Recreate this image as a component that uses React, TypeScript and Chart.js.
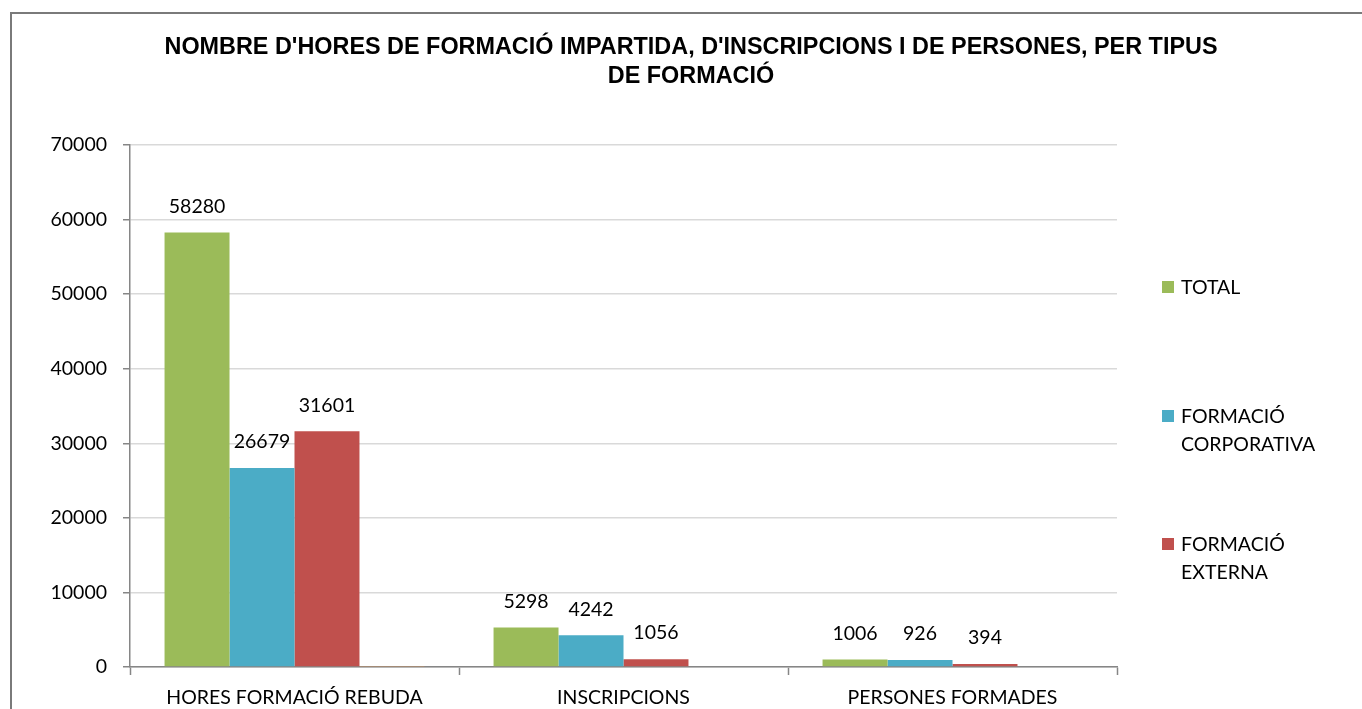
import React, { useEffect, useRef } from "react";
import { Chart, registerables } from "chart.js";

Chart.register(...registerables);

// ---- data ----
const TITLE_LINES = [
  "NOMBRE D'HORES DE FORMACIÓ IMPARTIDA, D'INSCRIPCIONS I DE PERSONES, PER TIPUS",
  "DE FORMACIÓ",
];
const CATEGORIES = ["HORES FORMACIÓ REBUDA", "INSCRIPCIONS", "PERSONES FORMADES"];
const TOTAL = [58280, 5298, 1006];
const CORPORATIVA = [26679, 4242, 926];
const EXTERNA = [31601, 1056, 394];
const ALTRES = [120, 0, 0];
const SERIES_NAMES = ["TOTAL", "FORMACIÓ CORPORATIVA", "FORMACIÓ EXTERNA", ""];
const LEGEND_LINES = [["TOTAL"], ["FORMACIÓ", "CORPORATIVA"], ["FORMACIÓ", "EXTERNA"]];
const COLORS = ["#9BBB59", "#4BACC6", "#C0504D", "#F79646"];
const Y_MIN = 0;
const Y_MAX = 70000;
const Y_STEP = 10000;

const FONT = "Lato";
const FONT_SIZE = 19.5;

const titlePlugin = {
  id: "customTitle",
  afterDraw(chart: any) {
    const ctx = chart.ctx;
    ctx.save();
    ctx.fillStyle = "#000";
    ctx.font = "bold 23.4px 'Liberation Sans', Arial, sans-serif";
    ctx.textAlign = "center";
    ctx.textBaseline = "middle";
    const cx = 691;
    ctx.fillText(TITLE_LINES[0], cx, 48);
    ctx.fillText(TITLE_LINES[1], cx, 77);
    ctx.restore();
  },
};

const dataLabelPlugin = {
  id: "dataLabels",
  afterDatasetsDraw(chart: any) {
    const ctx = chart.ctx;
    ctx.save();
    ctx.fillStyle = "#000";
    ctx.font = `${FONT_SIZE}px ${FONT}`;
    ctx.textAlign = "center";
    ctx.textBaseline = "middle";
    for (let d = 0; d < 3; d++) {
      const meta = chart.getDatasetMeta(d);
      const ds = chart.data.datasets[d];
      meta.data.forEach((el: any, i: number) => {
        ctx.fillText(String(ds.data[i]), el.x, el.y - 26);
      });
    }
    ctx.restore();
  },
};

const legendPlugin = {
  id: "customLegend",
  afterDraw(chart: any) {
    const ctx = chart.ctx;
    ctx.save();
    ctx.font = `${FONT_SIZE}px ${FONT}`;
    ctx.textAlign = "left";
    ctx.textBaseline = "middle";
    const firstLineY = [288, 417, 545];
    const lineGap = 28;
    LEGEND_LINES.forEach((lines, i) => {
      const y0 = firstLineY[i];
      ctx.fillStyle = COLORS[i];
      ctx.fillRect(1162, y0 - 7, 12, 12);
      ctx.fillStyle = "#000";
      lines.forEach((t, k) => ctx.fillText(t, 1181, y0 + k * lineGap));
    });
    ctx.restore();
  },
};

export default function App() {
  const ref = useRef<HTMLCanvasElement>(null);
  useEffect(() => {
    if (!ref.current) return;
    const datasets = [TOTAL, CORPORATIVA, EXTERNA, ALTRES].map((data, i) => ({
      label: SERIES_NAMES[i],
      data,
      backgroundColor: COLORS[i],
      borderWidth: 0,
      categoryPercentage: 0.79,
      barPercentage: 1,
    }));
    const chart = new Chart(ref.current, {
      type: "bar",
      data: { labels: CATEGORIES, datasets },
      options: {
        responsive: false,
        animation: false,
        layout: { padding: { left: 0, right: 245, top: 145, bottom: 0 } },
        plugins: {
          legend: { display: false },
          title: { display: false },
          tooltip: { enabled: false },
        },
        scales: {
          x: {
            grid: {
              display: true,
              drawOnChartArea: false,
              drawTicks: true,
              tickLength: 8,
              tickColor: "#868686",
              tickWidth: 1.5,
              offset: true,
            },
            border: { color: "#868686", width: 1.5 },
            ticks: {
              font: { family: FONT, size: FONT_SIZE },
              color: "#000",
              padding: 11,
              maxRotation: 0,
              autoSkip: false,
            },
            afterFit: (s: any) => {
              s.height = 42;
            },
          },
          y: {
            min: Y_MIN,
            max: Y_MAX,
            ticks: {
              stepSize: Y_STEP,
              font: { family: FONT, size: FONT_SIZE },
              color: "#000",
              padding: 16,
              callback: (v: any) => String(v),
            },
            grid: {
              color: "#d9d9d9",
              lineWidth: 1.5,
              tickLength: 7,
              tickColor: "#868686",
              tickWidth: 1.5,
            },
            border: { color: "#868686", width: 1.5 },
            afterFit: (s: any) => {
              s.width = 130;
            },
          },
        },
      } as any,
      plugins: [titlePlugin, dataLabelPlugin, legendPlugin],
    });
    return () => chart.destroy();
  }, []);

  return (
    <>
      <div
        style={{
          position: "fixed",
          left: 10,
          top: 12,
          width: 2000,
          height: 2000,
          border: "2px solid #7a7a7a",
          boxSizing: "border-box",
        }}
      />
      <canvas
        ref={ref}
        width={1362}
        height={709}
        style={{ position: "fixed", left: 0, top: 0, width: 1362, height: 709 }}
      />
    </>
  );
}
